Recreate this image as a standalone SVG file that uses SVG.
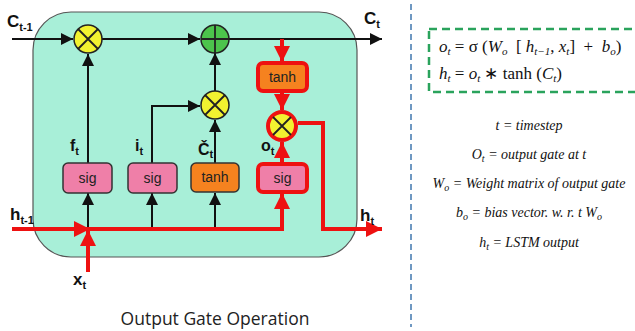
<svg xmlns="http://www.w3.org/2000/svg" width="635" height="331" viewBox="0 0 635 331">
<style>
.lbl{font-family:"Liberation Sans",Arial,sans-serif;font-weight:bold;fill:#111}
.box{font-family:"Liberation Sans",Arial,sans-serif;font-size:14px;fill:#222;text-anchor:middle}
.blk{stroke:#111;stroke-width:2;fill:none}
.red{stroke:#ee1111;stroke-width:4;fill:none}
.mul{fill:#f2f230;stroke:#222;stroke-width:1.5}
.math{font-family:"Liberation Serif","Times New Roman",serif;font-style:italic;fill:#111}
.rom{font-style:normal}
</style>
<defs>
<marker id="ab" markerUnits="userSpaceOnUse" markerWidth="12" markerHeight="12" viewBox="0 0 10 10" refX="10" refY="5" orient="auto"><path d="M0,0 L10,5 L0,10 z" fill="#111"/></marker>
<marker id="ar" markerUnits="userSpaceOnUse" markerWidth="16" markerHeight="16" viewBox="0 0 10 10" refX="10" refY="5" orient="auto"><path d="M0,0 L10,5 L0,10 z" fill="#ee1111"/></marker>
</defs>
<rect width="635" height="331" fill="#ffffff"/>
<g id="cell"><rect x="33" y="12" width="324" height="245" rx="38" fill="#a8efd8" stroke="#555" stroke-width="1.2"/></g>

<g id="connectors">
<line class="blk" x1="12" y1="39" x2="73" y2="39" marker-end="url(#ab)"/>
<line class="blk" x1="102" y1="39" x2="200" y2="39" marker-end="url(#ab)"/>
<line class="blk" x1="229" y1="39" x2="382" y2="39" marker-end="url(#ab)"/>
<line class="blk" x1="88" y1="163" x2="88" y2="54" marker-end="url(#ab)"/>
<path class="blk" d="M152,163 V106 H200" marker-end="url(#ab)"/>
<line class="blk" x1="215" y1="163" x2="215" y2="120" marker-end="url(#ab)"/>
<line class="blk" x1="215" y1="91" x2="215" y2="53" marker-end="url(#ab)"/>
<line class="blk" x1="88" y1="229" x2="88" y2="193" marker-end="url(#ab)"/>
<line class="blk" x1="152" y1="229" x2="152" y2="193" marker-end="url(#ab)"/>
<line class="blk" x1="215" y1="229" x2="215" y2="193" marker-end="url(#ab)"/>
<line class="red" x1="282" y1="39" x2="282" y2="62" marker-end="url(#ar)"/>
<line class="red" x1="282" y1="92" x2="282" y2="110" marker-end="url(#ar)"/>
<line class="red" x1="282" y1="163" x2="282" y2="142" marker-end="url(#ar)"/>
<path class="red" d="M298,123 H323 V229 H382" marker-end="url(#ar)"/>
<path class="red" d="M12,229 H282 V193" marker-end="url(#ar)"/>
<line class="red" x1="88" y1="272" x2="88" y2="230" marker-end="url(#ar)"/>
<path d="M74,221 L90,229 L74,237 z" fill="#ee1111"/>
</g>

<g id="forget-mul"><circle class="mul" cx="88" cy="39" r="14"/><path d="M78,29 L98,49 M98,29 L78,49" stroke="#222" stroke-width="1.8"/></g>
<g id="add"><circle cx="215" cy="39" r="14" fill="#4cc44c" stroke="#222" stroke-width="1.5"/><path d="M201,39 H229 M215,25 V53" stroke="#222" stroke-width="1.8"/></g>
<g id="input-mul"><circle class="mul" cx="215" cy="105" r="14"/><path d="M205,95 L225,115 M225,95 L205,115" stroke="#222" stroke-width="1.8"/></g>
<g id="output-mul"><circle cx="282" cy="126" r="14" fill="#f2f230" stroke="#ee1111" stroke-width="4"/><path d="M273,117 L291,135 M291,117 L273,135" stroke="#222" stroke-width="1.8"/></g>

<g id="forget-sig"><rect x="63" y="163" width="49" height="30" rx="5" fill="#ef7fa8" stroke="#333" stroke-width="1.5"/><text class="box" x="87.5" y="183">sig</text></g>
<g id="input-sig"><rect x="128" y="163" width="49" height="30" rx="5" fill="#ef7fa8" stroke="#333" stroke-width="1.5"/><text class="box" x="152.5" y="183">sig</text></g>
<g id="cand-tanh"><rect x="191" y="163" width="48" height="29" rx="5" fill="#f5821f" stroke="#333" stroke-width="1.5"/><text class="box" x="215" y="182">tanh</text></g>
<g id="out-tanh"><rect x="258" y="63" width="49" height="28" rx="5" fill="#f5821f" stroke="#ee1111" stroke-width="4"/><text class="box" x="282.5" y="82">tanh</text></g>
<g id="out-sig"><rect x="258" y="164" width="49" height="28" rx="5" fill="#ef7fa8" stroke="#ee1111" stroke-width="4"/><text class="box" x="282.5" y="183">sig</text></g>

<g id="labels">
<text class="lbl" x="7" y="27" font-size="17">C<tspan font-size="11" dy="4">t-1</tspan></text>
<text class="lbl" x="364" y="24" font-size="17">C<tspan font-size="11" dy="4">t</tspan></text>
<text class="lbl" x="10" y="220" font-size="17">h<tspan font-size="11" dy="4">t-1</tspan></text>
<text class="lbl" x="360" y="221" font-size="17">h<tspan font-size="11" dy="4">t</tspan></text>
<text class="lbl" x="73" y="285" font-size="17">x<tspan font-size="11" dy="4">t</tspan></text>
<text class="lbl" x="70" y="151" font-size="16">f<tspan font-size="11" dy="4">t</tspan></text>
<text class="lbl" x="135" y="151" font-size="16">i<tspan font-size="11" dy="4">t</tspan></text>
<text class="lbl" x="198" y="155" font-size="16">Č<tspan font-size="11" dy="3">t</tspan></text>
<text class="lbl" x="261" y="151" font-size="16">o<tspan font-size="11" dy="4">t</tspan></text>
</g>

<text x="215" y="325" font-family="'Open Sans','Liberation Sans',sans-serif" font-size="17.5" fill="#222" text-anchor="middle">Output Gate Operation</text>

<line x1="411" y1="4" x2="411" y2="327" stroke="#6f98c2" stroke-width="2" stroke-dasharray="6,4"/>

<g id="eq-box">
<rect x="429" y="29" width="215" height="63" fill="#ffffff" stroke="#2aa35c" stroke-width="2.5" stroke-dasharray="8,5"/>
<text class="math" x="439" y="52" font-size="17" xml:space="preserve">o<tspan font-size="11" dy="3">t</tspan><tspan class="rom" dy="-3"> = σ (</tspan>W<tspan font-size="11" dy="3">o</tspan><tspan class="rom" dy="-3">  [ </tspan>h<tspan font-size="11" dy="3">t−1</tspan><tspan class="rom" dy="-3">, </tspan>x<tspan font-size="11" dy="3">t</tspan><tspan class="rom" dy="-3">]  +  </tspan>b<tspan font-size="11" dy="3">o</tspan><tspan class="rom" dy="-3">)</tspan></text>
<text class="math" x="439" y="79" font-size="17">h<tspan font-size="11" dy="3">t</tspan><tspan class="rom" dy="-3"> = </tspan>o<tspan font-size="11" dy="3">t</tspan><tspan class="rom" dy="-3"> ∗ tanh (</tspan>C<tspan font-size="11" dy="3">t</tspan><tspan class="rom" dy="-3">)</tspan></text>
</g>

<g id="defs-text" class="math" font-size="14" text-anchor="middle">
<text x="529" y="130">t = timestep</text>
<text x="529" y="159">O<tspan font-size="10" dy="3">t</tspan><tspan dy="-3"> = output gate at t</tspan></text>
<text x="529" y="188">W<tspan font-size="10" dy="3">o</tspan><tspan dy="-3"> = Weight matrix of output gate</tspan></text>
<text x="529" y="217">b<tspan font-size="10" dy="3">o</tspan><tspan dy="-3"> = bias vector. w. r. t W</tspan><tspan font-size="10" dy="3">o</tspan></text>
<text x="529" y="247">h<tspan font-size="10" dy="3">t</tspan><tspan dy="-3"> = LSTM output</tspan></text>
</g>
</svg>
